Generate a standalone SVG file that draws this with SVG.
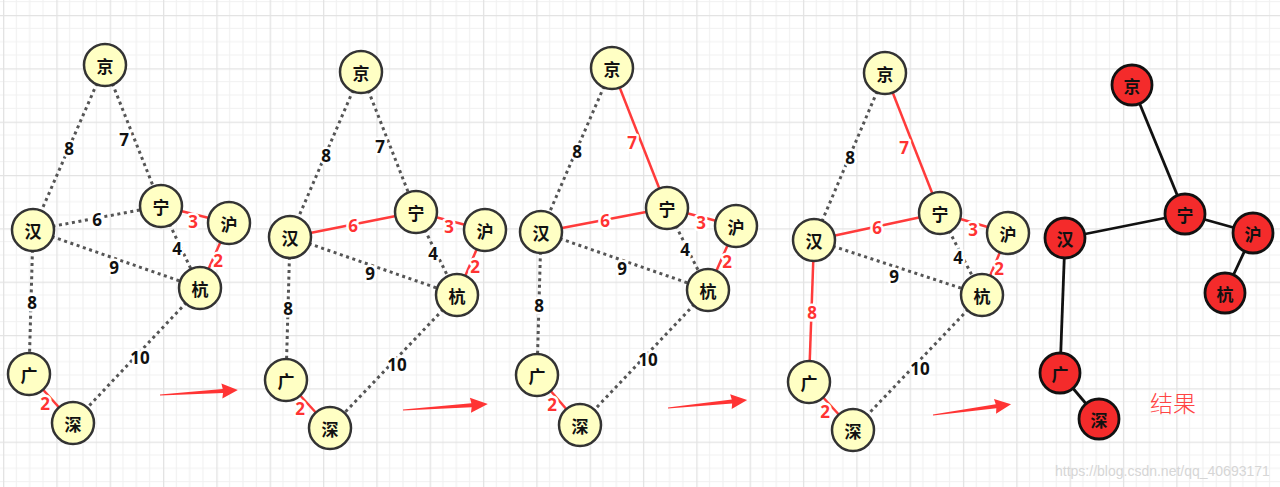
<svg xmlns="http://www.w3.org/2000/svg" xmlns:xlink="http://www.w3.org/1999/xlink" width="1280" height="487" viewBox="0 0 1280 487">
<style>
.dot{stroke:#555;stroke-width:3;stroke-dasharray:3 3.6;fill:none}
.red{stroke:#ff3b3b;stroke-width:2.5;fill:none}
.blk{stroke:#111;stroke-width:2.8;fill:none}
.nd{fill:#ffffc4;stroke:#333;stroke-width:2.5}
.nr{fill:#f42b2b;stroke:#111;stroke-width:2.8}
.nt{font-family:"Noto Sans CJK SC",sans-serif;font-size:17px;font-weight:bold;fill:#111;text-anchor:middle;dominant-baseline:central}
.lb{font-family:"Open Sans","Liberation Sans",sans-serif;font-size:17px;font-weight:bold;fill:#111;text-anchor:middle;dominant-baseline:central;paint-order:stroke;stroke:#fff;stroke-width:5;stroke-linejoin:round}
.lr{fill:#ff3333}
.arrow{fill:#ff3434}
</style>
<defs>
<pattern id="grid" x="3" y="15" width="53.33" height="53.33" patternUnits="userSpaceOnUse">
<path d="M13.33 0V53.33M26.67 0V53.33M40 0V53.33M0 13.33H53.33M0 26.67H53.33M0 40H53.33" stroke="#f1f1f1" stroke-width="1.2" fill="none"/>
<path d="M0.6 0V53.33M0 0.6H53.33" stroke="#e3e3e3" stroke-width="1.4" fill="none"/>
</pattern>
<path id="arr" d="M0 -0.6 L63 -2 L62 -7.5 L78 0 L62 7.5 L63 2 L0 0.6 Z"/>
</defs>
<rect width="1280" height="487" fill="#fff"/>
<rect width="1280" height="487" fill="url(#grid)"/>

<g id="connectors">
<g id="g1-edges">
<line class="dot" x1="105" y1="65" x2="33" y2="230"/>
<line class="dot" x1="105" y1="65" x2="161" y2="206"/>
<line class="dot" x1="33" y1="230" x2="161" y2="206"/>
<line class="red" x1="161" y1="206" x2="229" y2="223"/>
<line class="dot" x1="161" y1="206" x2="200" y2="288"/>
<line class="red" x1="229" y1="223" x2="200" y2="288"/>
<line class="dot" x1="33" y1="230" x2="200" y2="288"/>
<line class="dot" x1="33" y1="230" x2="29" y2="374"/>
<line class="red" x1="29" y1="374" x2="73" y2="423"/>
<line class="dot" x1="200" y1="288" x2="73" y2="423"/>
</g>
<g id="g2-edges">
<line class="dot" x1="361" y1="72" x2="290" y2="237"/>
<line class="dot" x1="361" y1="72" x2="416" y2="212"/>
<line class="red" x1="290" y1="237" x2="416" y2="212"/>
<line class="red" x1="416" y1="212" x2="485" y2="230"/>
<line class="dot" x1="416" y1="212" x2="457" y2="295"/>
<line class="red" x1="485" y1="230" x2="457" y2="295"/>
<line class="dot" x1="290" y1="237" x2="457" y2="295"/>
<line class="dot" x1="290" y1="237" x2="286" y2="380"/>
<line class="red" x1="286" y1="380" x2="330" y2="428"/>
<line class="dot" x1="457" y1="295" x2="330" y2="428"/>
</g>
<g id="g3-edges">
<line class="dot" x1="612" y1="68" x2="541" y2="232"/>
<line class="red" x1="612" y1="68" x2="667" y2="208"/>
<line class="red" x1="541" y1="232" x2="667" y2="208"/>
<line class="red" x1="667" y1="208" x2="736" y2="226"/>
<line class="dot" x1="667" y1="208" x2="708" y2="290"/>
<line class="red" x1="736" y1="226" x2="708" y2="290"/>
<line class="dot" x1="541" y1="232" x2="708" y2="290"/>
<line class="dot" x1="541" y1="232" x2="537" y2="375"/>
<line class="red" x1="537" y1="375" x2="580" y2="425"/>
<line class="dot" x1="708" y1="290" x2="580" y2="425"/>
</g>
<g id="g4-edges">
<line class="dot" x1="885" y1="73" x2="814" y2="240"/>
<line class="red" x1="885" y1="73" x2="940" y2="213"/>
<line class="red" x1="814" y1="240" x2="940" y2="213"/>
<line class="red" x1="940" y1="213" x2="1008" y2="233"/>
<line class="dot" x1="940" y1="213" x2="982" y2="295"/>
<line class="red" x1="1008" y1="233" x2="982" y2="295"/>
<line class="dot" x1="814" y1="240" x2="982" y2="295"/>
<line class="red" x1="814" y1="240" x2="809" y2="382"/>
<line class="red" x1="809" y1="382" x2="853" y2="430"/>
<line class="dot" x1="982" y1="295" x2="853" y2="430"/>
</g>
<g id="g5-edges">
<line class="blk" x1="1132" y1="85" x2="1185" y2="214"/>
<line class="blk" x1="1065" y1="238" x2="1185" y2="214"/>
<line class="blk" x1="1185" y1="214" x2="1253" y2="233"/>
<line class="blk" x1="1253" y1="233" x2="1225" y2="293"/>
<line class="blk" x1="1065" y1="238" x2="1060" y2="373"/>
<line class="blk" x1="1060" y1="373" x2="1099" y2="419"/>
</g>
<use href="#arr" class="arrow" transform="translate(160 395) rotate(-3.7)"/>
<use href="#arr" class="arrow" transform="translate(403 410) rotate(-4) scale(1.09 1)"/>
<use href="#arr" class="arrow" transform="translate(668 408) rotate(-5.8) scale(1.02 1)"/>
<use href="#arr" class="arrow" transform="translate(933 415) rotate(-7.9) scale(1.01 1)"/>
</g>

<g id="edge-labels">
<text class="lb" x="69" y="148">8</text>
<text class="lb" x="124" y="139">7</text>
<text class="lb" x="97" y="219">6</text>
<text class="lb lr" x="193" y="221">3</text>
<text class="lb" x="177" y="248">4</text>
<text class="lb lr" x="218" y="260">2</text>
<text class="lb" x="114" y="267">9</text>
<text class="lb" x="32" y="302">8</text>
<text class="lb" x="140" y="357">10</text>
<text class="lb lr" x="45" y="403">2</text>

<text class="lb" x="326" y="155">8</text>
<text class="lb" x="380" y="146">7</text>
<text class="lb lr" x="353" y="225">6</text>
<text class="lb lr" x="449" y="226">3</text>
<text class="lb" x="433" y="253">4</text>
<text class="lb lr" x="475" y="266">2</text>
<text class="lb" x="370" y="273">9</text>
<text class="lb" x="288" y="308">8</text>
<text class="lb" x="397" y="364">10</text>
<text class="lb lr" x="300" y="408">2</text>

<text class="lb" x="577" y="151">8</text>
<text class="lb lr" x="632" y="142">7</text>
<text class="lb lr" x="605" y="220">6</text>
<text class="lb lr" x="701" y="222">3</text>
<text class="lb" x="685" y="249">4</text>
<text class="lb lr" x="727" y="261">2</text>
<text class="lb" x="622" y="268">9</text>
<text class="lb" x="539" y="305">8</text>
<text class="lb" x="648" y="359">10</text>
<text class="lb lr" x="552" y="404">2</text>

<text class="lb" x="850" y="157">8</text>
<text class="lb lr" x="904" y="147">7</text>
<text class="lb lr" x="877" y="227">6</text>
<text class="lb lr" x="973" y="229">3</text>
<text class="lb" x="958" y="257">4</text>
<text class="lb lr" x="999" y="268">2</text>
<text class="lb" x="894" y="276">9</text>
<text class="lb lr" x="812" y="312">8</text>
<text class="lb" x="920" y="368">10</text>
<text class="lb lr" x="825" y="411">2</text>
</g>

<g id="g1-jing"><circle class="nd" cx="105" cy="65" r="21"/><text class="nt" x="105" y="65">京</text></g>
<g id="g1-ning"><circle class="nd" cx="161" cy="206" r="21"/><text class="nt" x="161" y="206">宁</text></g>
<g id="g1-hu"><circle class="nd" cx="229" cy="223" r="21"/><text class="nt" x="229" y="223">沪</text></g>
<g id="g1-han"><circle class="nd" cx="33" cy="230" r="21"/><text class="nt" x="33" y="230">汉</text></g>
<g id="g1-hang"><circle class="nd" cx="200" cy="288" r="21"/><text class="nt" x="200" y="288">杭</text></g>
<g id="g1-guang"><circle class="nd" cx="29" cy="374" r="21"/><text class="nt" x="29" y="374">广</text></g>
<g id="g1-shen"><circle class="nd" cx="73" cy="423" r="21"/><text class="nt" x="73" y="423">深</text></g>

<g id="g2-jing"><circle class="nd" cx="361" cy="72" r="21"/><text class="nt" x="361" y="72">京</text></g>
<g id="g2-ning"><circle class="nd" cx="416" cy="212" r="21"/><text class="nt" x="416" y="212">宁</text></g>
<g id="g2-hu"><circle class="nd" cx="485" cy="230" r="21"/><text class="nt" x="485" y="230">沪</text></g>
<g id="g2-han"><circle class="nd" cx="290" cy="237" r="21"/><text class="nt" x="290" y="237">汉</text></g>
<g id="g2-hang"><circle class="nd" cx="457" cy="295" r="21"/><text class="nt" x="457" y="295">杭</text></g>
<g id="g2-guang"><circle class="nd" cx="286" cy="380" r="21"/><text class="nt" x="286" y="380">广</text></g>
<g id="g2-shen"><circle class="nd" cx="330" cy="428" r="21"/><text class="nt" x="330" y="428">深</text></g>

<g id="g3-jing"><circle class="nd" cx="612" cy="68" r="21"/><text class="nt" x="612" y="68">京</text></g>
<g id="g3-ning"><circle class="nd" cx="667" cy="208" r="21"/><text class="nt" x="667" y="208">宁</text></g>
<g id="g3-hu"><circle class="nd" cx="736" cy="226" r="21"/><text class="nt" x="736" y="226">沪</text></g>
<g id="g3-han"><circle class="nd" cx="541" cy="232" r="21"/><text class="nt" x="541" y="232">汉</text></g>
<g id="g3-hang"><circle class="nd" cx="708" cy="290" r="21"/><text class="nt" x="708" y="290">杭</text></g>
<g id="g3-guang"><circle class="nd" cx="537" cy="375" r="21"/><text class="nt" x="537" y="375">广</text></g>
<g id="g3-shen"><circle class="nd" cx="580" cy="425" r="21"/><text class="nt" x="580" y="425">深</text></g>

<g id="g4-jing"><circle class="nd" cx="885" cy="73" r="21"/><text class="nt" x="885" y="73">京</text></g>
<g id="g4-ning"><circle class="nd" cx="940" cy="213" r="21"/><text class="nt" x="940" y="213">宁</text></g>
<g id="g4-hu"><circle class="nd" cx="1008" cy="233" r="21"/><text class="nt" x="1008" y="233">沪</text></g>
<g id="g4-han"><circle class="nd" cx="814" cy="240" r="21"/><text class="nt" x="814" y="240">汉</text></g>
<g id="g4-hang"><circle class="nd" cx="982" cy="295" r="21"/><text class="nt" x="982" y="295">杭</text></g>
<g id="g4-guang"><circle class="nd" cx="809" cy="382" r="21"/><text class="nt" x="809" y="382">广</text></g>
<g id="g4-shen"><circle class="nd" cx="853" cy="430" r="21"/><text class="nt" x="853" y="430">深</text></g>

<g id="g5-jing"><circle class="nr" cx="1132" cy="85" r="20"/><text class="nt" x="1132" y="85">京</text></g>
<g id="g5-ning"><circle class="nr" cx="1185" cy="214" r="20"/><text class="nt" x="1185" y="214">宁</text></g>
<g id="g5-hu"><circle class="nr" cx="1253" cy="233" r="20"/><text class="nt" x="1253" y="233">沪</text></g>
<g id="g5-han"><circle class="nr" cx="1065" cy="238" r="20"/><text class="nt" x="1065" y="238">汉</text></g>
<g id="g5-hang"><circle class="nr" cx="1225" cy="293" r="20"/><text class="nt" x="1225" y="293">杭</text></g>
<g id="g5-guang"><circle class="nr" cx="1060" cy="373" r="20"/><text class="nt" x="1060" y="373">广</text></g>
<g id="g5-shen"><circle class="nr" cx="1099" cy="419" r="20"/><text class="nt" x="1099" y="419">深</text></g>

<text x="1173" y="402" font-family="'Noto Sans CJK SC',sans-serif" font-size="23" font-weight="300" fill="#ff4444" text-anchor="middle" dominant-baseline="central">结果</text>
<text x="1055" y="476" font-family="'Liberation Sans',Arial,sans-serif" font-size="14" fill="#d6d6d6">https://blog.csdn.net/qq_40693171</text>
</svg>
